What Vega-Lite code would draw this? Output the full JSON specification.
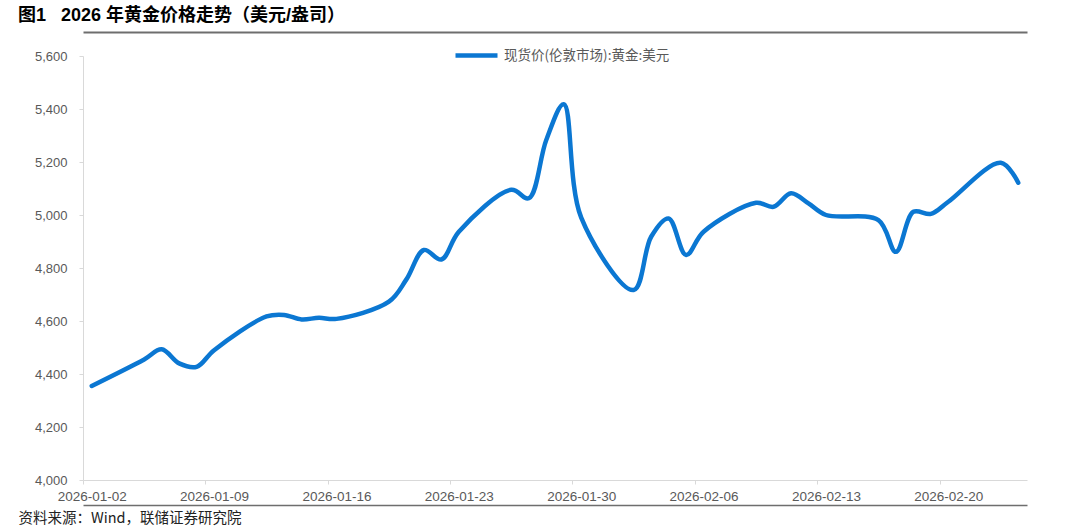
{
  "$schema": "https://vega.github.io/schema/vega-lite/v6.json",
  "width": 944,
  "height": 424,
  "autosize": {"type": "none"},
  "padding": {"left": 83, "top": 56, "right": 39, "bottom": 51},
  "background": "white",
  "title": {
    "text": "图1\u00a0\u00a0 2026 年黄金价格走势（美元/盎司）",
    "anchor": "start",
    "frame": "group",
    "dx": -65,
    "offset": 7,
    "font": "Liberation Sans, Noto Sans CJK SC",
    "fontSize": 18,
    "fontWeight": "bold",
    "color": "#000000"
  },
  "data": {
    "values": [
      {"date": "2026-01-02", "price": 4355},
      {"date": "2026-01-05", "price": 4455},
      {"date": "2026-01-06", "price": 4493},
      {"date": "2026-01-07", "price": 4440},
      {"date": "2026-01-08", "price": 4427},
      {"date": "2026-01-09", "price": 4490},
      {"date": "2026-01-12", "price": 4617},
      {"date": "2026-01-13", "price": 4623},
      {"date": "2026-01-14", "price": 4606},
      {"date": "2026-01-15", "price": 4612},
      {"date": "2026-01-16", "price": 4608},
      {"date": "2026-01-19", "price": 4673},
      {"date": "2026-01-20", "price": 4757},
      {"date": "2026-01-21", "price": 4868},
      {"date": "2026-01-22", "price": 4832},
      {"date": "2026-01-23", "price": 4937},
      {"date": "2026-01-26", "price": 5095},
      {"date": "2026-01-27", "price": 5063},
      {"date": "2026-01-28", "price": 5283},
      {"date": "2026-01-29", "price": 5418},
      {"date": "2026-01-30", "price": 4990},
      {"date": "2026-02-02", "price": 4717},
      {"date": "2026-02-03", "price": 4918},
      {"date": "2026-02-04", "price": 4987},
      {"date": "2026-02-05", "price": 4849},
      {"date": "2026-02-06", "price": 4937},
      {"date": "2026-02-09", "price": 5046},
      {"date": "2026-02-10", "price": 5031},
      {"date": "2026-02-11", "price": 5082},
      {"date": "2026-02-12", "price": 5044},
      {"date": "2026-02-13", "price": 5000},
      {"date": "2026-02-16", "price": 4981},
      {"date": "2026-02-17", "price": 4861},
      {"date": "2026-02-18", "price": 5012},
      {"date": "2026-02-19", "price": 5004},
      {"date": "2026-02-20", "price": 5050},
      {"date": "2026-02-23", "price": 5197},
      {"date": "2026-02-24", "price": 5122}
    ]
  },
  "layer": [
    {
      "mark": {"type": "line", "interpolate": "catmull-rom", "strokeWidth": 4.5, "strokeCap": "round"},
      "encoding": {
        "x": {
          "field": "date",
          "timeUnit": "utcyearmonthdate",
          "type": "temporal",
          "bandPosition": 0.5,
          "scale": {
            "type": "utc",
            "nice": false,
            "domain": [
              {"year": 2026, "month": 1, "date": 2, "utc": true},
              {"year": 2026, "month": 2, "date": 25, "utc": true}
            ]
          },
          "axis": {
            "values": [
              {"year": 2026, "month": 1, "date": 2, "utc": true},
              {"year": 2026, "month": 1, "date": 9, "utc": true},
              {"year": 2026, "month": 1, "date": 16, "utc": true},
              {"year": 2026, "month": 1, "date": 23, "utc": true},
              {"year": 2026, "month": 1, "date": 30, "utc": true},
              {"year": 2026, "month": 2, "date": 6, "utc": true},
              {"year": 2026, "month": 2, "date": 13, "utc": true},
              {"year": 2026, "month": 2, "date": 20, "utc": true}
            ],
            "labelExpr": "utcFormat(datum.value, '%Y-%m-%d')",
            "labelOffset": 8.7,
            "labelFlush": false,
            "labelOverlap": false,
            "labelPadding": 5,
            "labelFont": "Liberation Sans",
            "labelFontSize": 13.5,
            "labelColor": "#595959",
            "tickSize": 4,
            "tickColor": "#d9d9d9",
            "domainColor": "#d9d9d9",
            "grid": false,
            "title": null
          }
        },
        "y": {
          "field": "price",
          "type": "quantitative",
          "scale": {"domain": [4000, 5600], "nice": false, "zero": false},
          "axis": {
            "values": [4000, 4200, 4400, 4600, 4800, 5000, 5200, 5400, 5600],
            "format": ",.0f",
            "labelPadding": 12,
            "labelFont": "Liberation Sans",
            "labelFontSize": 13,
            "labelColor": "#595959",
            "tickSize": 4,
            "tickColor": "#d9d9d9",
            "domainColor": "#d9d9d9",
            "grid": false,
            "title": null
          }
        },
        "color": {
          "datum": "现货价(伦敦市场):黄金:美元",
          "type": "nominal",
          "scale": {"range": ["#0b77d2"]},
          "legend": {
            "orient": "none",
            "legendX": 370,
            "legendY": -24,
            "title": null,
            "symbolType": "stroke",
            "symbolSize": 1764,
            "symbolStrokeWidth": 4.5,
            "labelOffset": 4,
            "labelLimit": 400,
            "labelFont": "Noto Sans CJK SC",
            "labelFontSize": 13.5,
            "labelColor": "#595959"
          }
        }
      }
    },
    {
      "mark": {"type": "line", "opacity": 0},
      "encoding": {
        "x": {
          "field": "date",
          "timeUnit": "utcyearmonthdate",
          "type": "temporal",
          "bandPosition": 0.5,
          "axis": {
            "orient": "top",
            "offset": 24,
            "labels": false,
            "ticks": false,
            "grid": false,
            "domainColor": "#6e6e6e",
            "domainWidth": 2,
            "title": null
          }
        },
        "y": {"field": "price", "type": "quantitative", "axis": null}
      }
    },
    {
      "mark": {"type": "line", "opacity": 0},
      "encoding": {
        "x": {
          "field": "date",
          "timeUnit": "utcyearmonthdate",
          "type": "temporal",
          "bandPosition": 0.5,
          "axis": {
            "orient": "bottom",
            "offset": 25,
            "labels": false,
            "ticks": false,
            "grid": false,
            "domainColor": "#6e6e6e",
            "domainWidth": 1.5,
            "title": "资料来源：Wind，联储证券研究院",
            "titleX": -65,
            "titleY": 13,
            "titleAlign": "left",
            "titleBaseline": "middle",
            "titleFont": "Noto Sans CJK SC",
            "titleFontSize": 14.5,
            "titleFontWeight": "normal",
            "titleColor": "#222222"
          }
        },
        "y": {"field": "price", "type": "quantitative", "axis": null}
      }
    }
  ],
  "resolve": {"axis": {"x": "independent", "y": "independent"}},
  "config": {"view": {"stroke": null}}
}
